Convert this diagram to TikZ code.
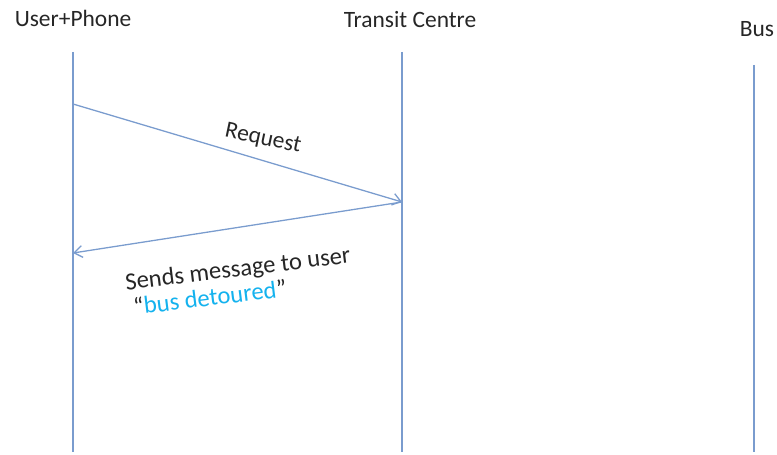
\documentclass[tikz,border=0pt]{standalone}
\usepackage{fontspec}
\setmainfont{Carlito}
\usetikzlibrary{arrows.meta}
\definecolor{lifeblue}{RGB}{122,156,206}
\definecolor{msgcyan}{RGB}{20,178,238}
\tikzset{
  lbl/.style={font=\fontsize{20}{24}\selectfont, text=black!85, inner sep=0pt},
  life/.style={lifeblue, line width=1.3pt},
  msg/.style={lifeblue, line width=1.1pt, -{Straight Barb[length=7pt,width=10pt]}}
}

\begin{document}
\begin{tikzpicture}[x=0.03cm, y=-0.03cm]
  \useasboundingbox (0,0) rectangle (777,455);

  % Actors
  \node [lbl, anchor=base] (user) at (73,27) {User+Phone};
  \node [lbl, anchor=base] (centre) at (410,28) {Transit Centre};
  \node [lbl, anchor=base] (bus) at (757,37) {Bus};

  \coordinate (userTop) at (73,52);
  \coordinate (userBot) at (73,452);
  \coordinate (centreTop) at (402,52);
  \coordinate (centreBot) at (402,452);
  \coordinate (busTop) at (754,65);
  \coordinate (busBot) at (754,452);

  \draw [life] (userTop) -- (userBot);
  \draw [life] (centreTop) -- (centreBot);
  \draw [life] (busTop) -- (busBot);

  % Messages
  \coordinate (reqFrom) at (73,104);
  \coordinate (reqTo) at (402,202);
  \coordinate (ansTo) at (73,253);

  \draw [msg] (reqFrom) -- (reqTo);
  \node [lbl, rotate=-12] (request) at (263,139) {Request};

  \draw [msg] (reqTo) -- (ansTo);
  \node [lbl, rotate=7, font=\fontsize{21}{25}\selectfont] (sends) at (238,270) {Sends message to user};
  \node [lbl, rotate=7, font=\fontsize{21}{25}\selectfont] (detoured) at (210,297)
    {``\textcolor{msgcyan}{bus detoured}''};

\end{tikzpicture}
\end{document}
